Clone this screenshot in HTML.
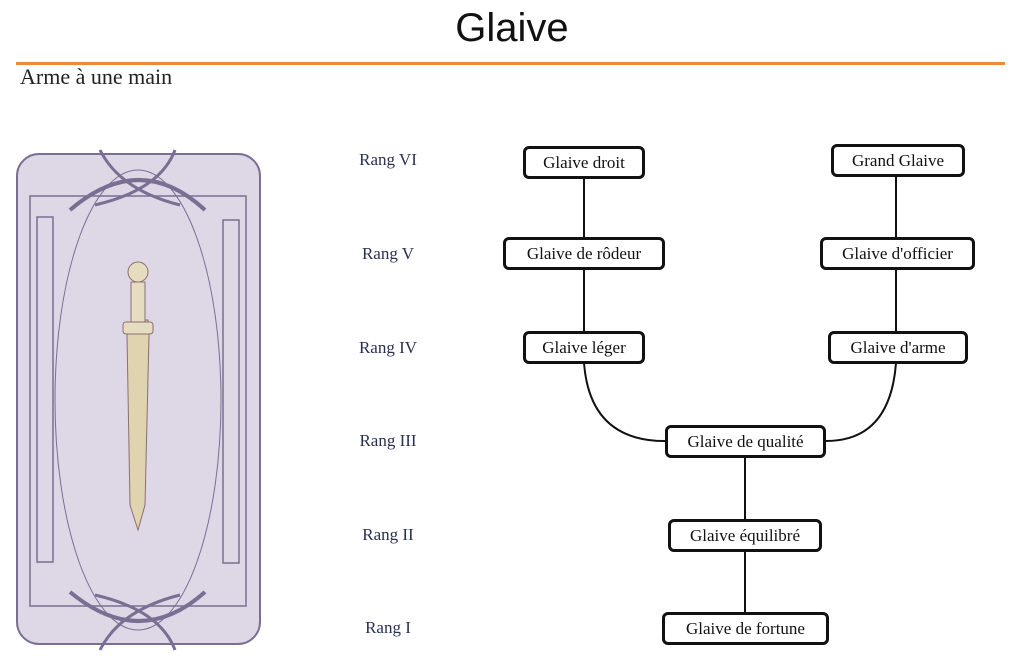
<!DOCTYPE html>
<html><head><meta charset="utf-8"><style>
body{margin:0;width:1024px;height:671px;background:#fff;position:relative;overflow:hidden;font-family:"Liberation Serif",serif;}
.t{position:absolute;left:0;width:1024px;text-align:center;top:6px;font-size:40px;color:#111;font-family:"Liberation Sans",sans-serif;}
.hr{position:absolute;left:16px;width:989px;top:62px;height:3px;background:#ec8a3c;}
.st{position:absolute;left:20px;top:64px;font-size:22px;color:#222;}
.r{position:absolute;width:120px;text-align:center;left:328px;font-size:17px;color:#2a3050;}
.b{position:absolute;box-sizing:border-box;border:3px solid #111;border-radius:6px;background:#fff;text-align:center;font-size:17px;line-height:27px;color:#111;}
</style></head><body>
<div class="t">Glaive</div><div class="hr"></div><div class="st">Arme à une main</div>
<svg width="1024" height="671" style="position:absolute;left:0;top:0">
<rect x="17" y="154" width="243" height="490" rx="22" fill="#ddd7e6" stroke="#7a6f92" stroke-width="2"/>
<rect x="30" y="196" width="216" height="410" fill="none" stroke="#7a6f92" stroke-width="1.5"/>
<rect x="37" y="217" width="16" height="345" fill="none" stroke="#7a6f92" stroke-width="1.5"/>
<rect x="223" y="220" width="16" height="343" fill="none" stroke="#7a6f92" stroke-width="1.5"/>
<ellipse cx="138" cy="400" rx="83" ry="230" fill="none" stroke="#7a6f92" stroke-width="1"/>
<path d="M70 210 Q140 150 205 210 M70 592 Q140 650 205 592" fill="none" stroke="#7a6f92" stroke-width="4"/>
<path d="M100 150 Q120 190 180 205 M175 150 Q160 190 95 205 M100 650 Q120 610 180 595 M175 650 Q160 610 95 595" fill="none" stroke="#7a6f92" stroke-width="3"/>
<path d="M132 320 L148 320 L149 335 L145 505 L138 530 L130 505 L127 335 Z" fill="#e0d4b0" stroke="#8a7070" stroke-width="1"/>
<rect x="123" y="322" width="30" height="12" rx="3" fill="#e6dcc0" stroke="#8a7070"/>
<rect x="131" y="282" width="14" height="40" fill="#e6dcc0" stroke="#8a7070"/>
<circle cx="138" cy="272" r="10" fill="#e6dcc0" stroke="#8a7070"/>
<g fill="none" stroke="#111" stroke-width="2">
<path d="M584 178V237M584 270V331M896 176V237M896 270V331M745 458V519M745 552V612"/>
<path d="M584 363 Q590 441 665 441"/>
<path d="M896 363 Q890 441 826 441"/>
</g>
</svg>
<div class="r" style="top:150px">Rang VI</div>
<div class="r" style="top:244px">Rang V</div>
<div class="r" style="top:338px">Rang IV</div>
<div class="r" style="top:431px">Rang III</div>
<div class="r" style="top:525px">Rang II</div>
<div class="r" style="top:618px">Rang I</div>
<div class="b" style="left:523px;top:146px;width:122px;height:33px">Glaive droit</div>
<div class="b" style="left:831px;top:144px;width:134px;height:33px">Grand Glaive</div>
<div class="b" style="left:503px;top:237px;width:162px;height:33px">Glaive de rôdeur</div>
<div class="b" style="left:820px;top:237px;width:155px;height:33px">Glaive d'officier</div>
<div class="b" style="left:523px;top:331px;width:122px;height:33px">Glaive léger</div>
<div class="b" style="left:828px;top:331px;width:140px;height:33px">Glaive d'arme</div>
<div class="b" style="left:665px;top:425px;width:161px;height:33px">Glaive de qualité</div>
<div class="b" style="left:668px;top:519px;width:154px;height:33px">Glaive équilibré</div>
<div class="b" style="left:662px;top:612px;width:167px;height:33px">Glaive de fortune</div>
</body></html>
